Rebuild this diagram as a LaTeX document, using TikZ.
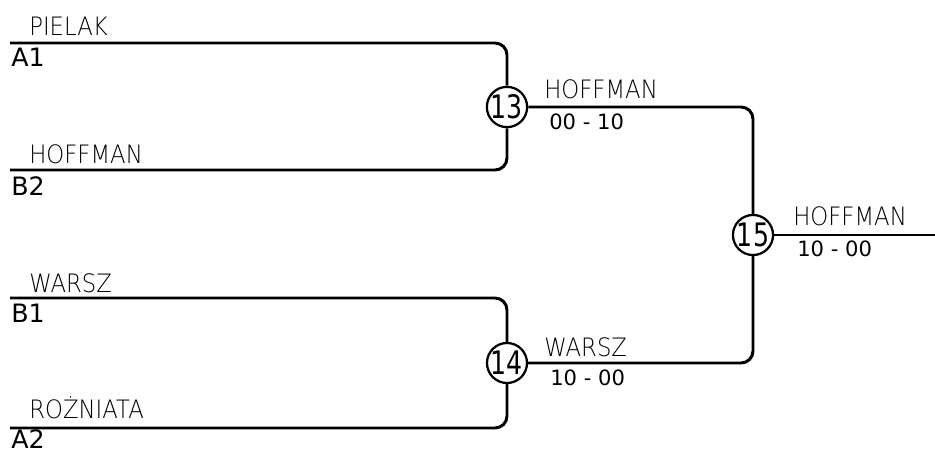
\documentclass[tikz,border=0pt]{standalone}
\usepackage{fontspec}
\setmainfont{DejaVu Sans}
\newfontfamily\namefont[FakeStretch=0.9]{DejaVu Sans ExtraLight}
\newfontfamily\matchfont[FakeStretch=0.78]{DejaVu Sans}
\usetikzlibrary{positioning}

\tikzset{
  match/.style={circle, draw, line width=1.6pt, inner sep=0pt, minimum size=1cm, font=\matchfont\fontsize{23}{23}\selectfont},
  player/.style={anchor=base west, inner sep=0pt, font=\namefont\fontsize{18}{18}\selectfont},
  seed/.style={anchor=base west, inner sep=0pt, font=\fontsize{18}{18}\selectfont},
  score/.style={anchor=base west, inner sep=0pt, font=\fontsize{15}{15}\selectfont},
  bracket/.style={line width=2.1pt, rounded corners=0.3cm},
}

\begin{document}
\begin{tikzpicture}[x=0.025cm, y=-0.025cm]
      \useasboundingbox (0,0) rectangle (935,454);

      \coordinate (a1) at (10,43);
      \coordinate (b2) at (10,170);
      \coordinate (b1) at (10,298);
      \coordinate (a2) at (10,428);
      \coordinate (out) at (935,235);

      \node[match] (m13) at (507,107) {13};
      \node[match] (m14) at (507,363) {14};
      \node[match] (m15) at (753,235) {15};

      \draw[bracket] (a1) -| (m13);
      \draw[bracket] (b2) -| (m13);
      \draw[bracket] (b1) -| (m14);
      \draw[bracket] (a2) -| (m14);
      \draw[bracket] (m13) -| (m15);
      \draw[bracket] (m14) -| (m15);
      \draw[bracket] (m15) -- (out);

      \node[player] (p-a1) at (29,35) {PIELAK};
      \node[seed] (s-a1) at (11,66) {A1};
      \node[player] (p-b2) at (29,163) {HOFFMAN};
      \node[seed] (s-b2) at (11,195) {B2};
      \node[player] (p-b1) at (29,292) {WARSZ};
      \node[seed] (s-b1) at (11,322) {B1};
      \node[player] (p-a2) at (29,418) {ROŻNIATA};
      \node[seed] (s-a2) at (11,448) {A2};

      \node[player] (w13) at (544,98) {HOFFMAN};
      \node[score] (r13) at (549,129) {00 - 10};
      \node[player] (w14) at (544,356) {WARSZ};
      \node[score] (r14) at (550,385) {10 - 00};
      \node[player] (w15) at (793,225) {HOFFMAN};
      \node[score] (r15) at (797,256) {10 - 00};
    \end{tikzpicture}
\end{document}
